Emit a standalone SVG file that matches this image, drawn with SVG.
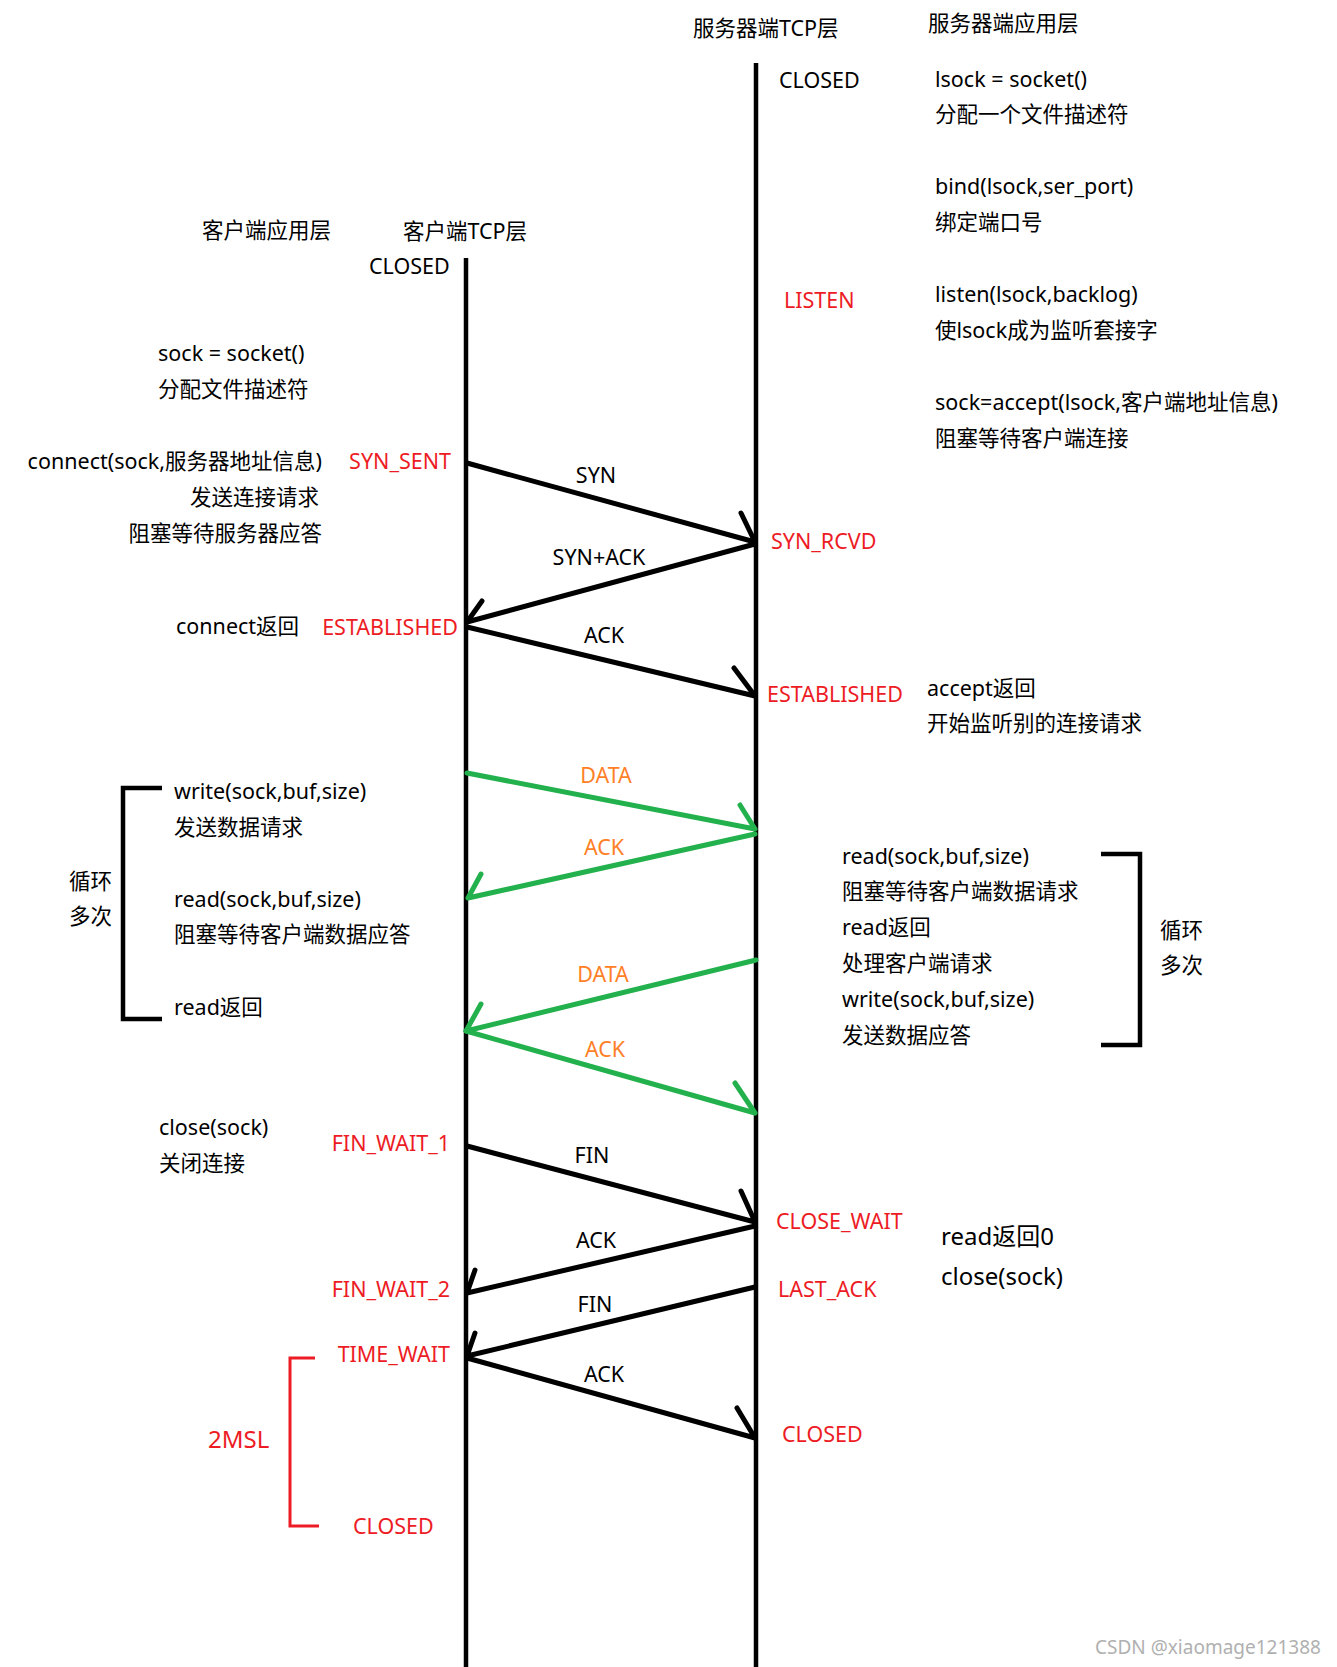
<svg xmlns="http://www.w3.org/2000/svg" width="1337" height="1667" viewBox="0 0 1337 1667">
<style>
text{font-family:"Noto Sans","Noto Sans CJK SC",sans-serif;font-size:21.5px;fill:#000}
.r{fill:#ED1C24}
.o{fill:#FF7F27}
.m{text-anchor:middle}
.e{text-anchor:end}
.big{font-size:24px}
.wm{fill:#b0b0b0;font-size:19px}
.life{stroke:#000;stroke-width:4.5;fill:none}
.k{stroke:#000;stroke-width:5;fill:none;stroke-linecap:round;stroke-linejoin:round}
.g{stroke:#22B14C;stroke-width:5;fill:none;stroke-linecap:round;stroke-linejoin:round}
.br{stroke:#000;stroke-width:4.5;fill:none}
.rb{stroke:#ED1C24;stroke-width:3;fill:none}
</style>
<rect width="1337" height="1667" fill="#fff"/>
<g id="lifelines">
<line class="life" x1="466" y1="258" x2="466" y2="1667"/>
<line class="life" x1="756" y1="63" x2="756" y2="1667"/>
</g>
<g id="connectors">
<path class="k" d="M467 463 L755 542 M741 513 L755 542"/>
<path class="k" d="M755 544 L467 622 M482 601 L467 622"/>
<path class="k" d="M467 627 L755 696 M734 668 L755 696"/>
<path class="g" d="M467 773 L755 829 M740 805 L755 829"/>
<path class="g" d="M755 834 L468 898 M481 874 L468 898"/>
<path class="g" d="M756 960 L466 1031 M481 1004 L466 1031"/>
<path class="g" d="M466 1031 L755 1113 M735 1083 L755 1113"/>
<path class="k" d="M467 1146 L755 1222 M741 1191 L755 1222"/>
<path class="k" d="M755 1226 L467 1293 M475 1270 L467 1293"/>
<path class="k" d="M755 1287 L467 1356 M475 1333 L467 1356"/>
<path class="k" d="M467 1358 L755 1438 M737 1408 L755 1438"/>
<path class="br" d="M162 788 L123 788 L123 1019 L162 1019"/>
<path class="br" d="M1101 854 L1140 854 L1140 1045 L1101 1045"/>
<path class="rb" d="M315 1358 L290 1358 L290 1526 L319 1526"/>
</g>
<g id="headers">
<text x="693" y="36">服务器端TCP层</text>
<text x="928" y="31">服务器端应用层</text>
<text x="202" y="238">客户端应用层</text>
<text x="403" y="239">客户端TCP层</text>
</g>
<g id="server-states">
<text x="779" y="88">CLOSED</text>
<text class="r" x="784" y="308">LISTEN</text>
<text class="r" x="771" y="549">SYN_RCVD</text>
<text class="r" x="767" y="702">ESTABLISHED</text>
<text class="r" x="776" y="1229">CLOSE_WAIT</text>
<text class="r" x="778" y="1297">LAST_ACK</text>
<text class="r" x="782" y="1442">CLOSED</text>
</g>
<g id="client-states">
<text x="369" y="274">CLOSED</text>
<text class="r e" x="451" y="469">SYN_SENT</text>
<text class="r e" x="458" y="635">ESTABLISHED</text>
<text class="r e" x="450" y="1151">FIN_WAIT_1</text>
<text class="r e" x="450" y="1297">FIN_WAIT_2</text>
<text class="r e" x="450" y="1362">TIME_WAIT</text>
<text class="r" x="353" y="1534">CLOSED</text>
<text class="r big" x="208" y="1448">2MSL</text>
</g>
<g id="server-app">
<text x="935" y="87">lsock = socket()</text>
<text x="935" y="122">分配一个文件描述符</text>
<text x="935" y="194">bind(lsock,ser_port)</text>
<text x="935" y="230">绑定端口号</text>
<text x="935" y="302">listen(lsock,backlog)</text>
<text x="935" y="338">使lsock成为监听套接字</text>
<text x="935" y="410">sock=accept(lsock,客户端地址信息)</text>
<text x="935" y="446">阻塞等待客户端连接</text>
<text x="927" y="696">accept返回</text>
<text x="927" y="731">开始监听别的连接请求</text>
<text x="842" y="864">read(sock,buf,size)</text>
<text x="842" y="899">阻塞等待客户端数据请求</text>
<text x="842" y="935">read返回</text>
<text x="842" y="971">处理客户端请求</text>
<text x="842" y="1007">write(sock,buf,size)</text>
<text x="842" y="1043">发送数据应答</text>
<text x="1160" y="938">循环</text>
<text x="1160" y="973">多次</text>
<text class="big" x="941" y="1245">read返回0</text>
<text class="big" x="941" y="1285">close(sock)</text>
</g>
<g id="client-app">
<text x="158" y="361">sock = socket()</text>
<text x="158" y="397">分配文件描述符</text>
<text class="e" x="322" y="469">connect(sock,服务器地址信息)</text>
<text class="e" x="319" y="505">发送连接请求</text>
<text class="e" x="322" y="541">阻塞等待服务器应答</text>
<text x="176" y="634">connect返回</text>
<text x="174" y="799">write(sock,buf,size)</text>
<text x="174" y="835">发送数据请求</text>
<text x="174" y="907">read(sock,buf,size)</text>
<text x="174" y="942">阻塞等待客户端数据应答</text>
<text x="174" y="1015">read返回</text>
<text x="69" y="889">循环</text>
<text x="69" y="924">多次</text>
<text x="159" y="1135">close(sock)</text>
<text x="159" y="1171">关闭连接</text>
</g>
<g id="message-labels">
<text class="m" x="596" y="483">SYN</text>
<text class="m" x="599" y="565">SYN+ACK</text>
<text class="m" x="604" y="643">ACK</text>
<text class="o m" x="606" y="783">DATA</text>
<text class="o m" x="604" y="855">ACK</text>
<text class="o m" x="603" y="982">DATA</text>
<text class="o m" x="605" y="1057">ACK</text>
<text class="m" x="592" y="1163">FIN</text>
<text class="m" x="596" y="1248">ACK</text>
<text class="m" x="595" y="1312">FIN</text>
<text class="m" x="604" y="1382">ACK</text>
</g>
<g id="watermark">
<text class="wm" x="1095" y="1654">CSDN @xiaomage121388</text>
</g>
</svg>
